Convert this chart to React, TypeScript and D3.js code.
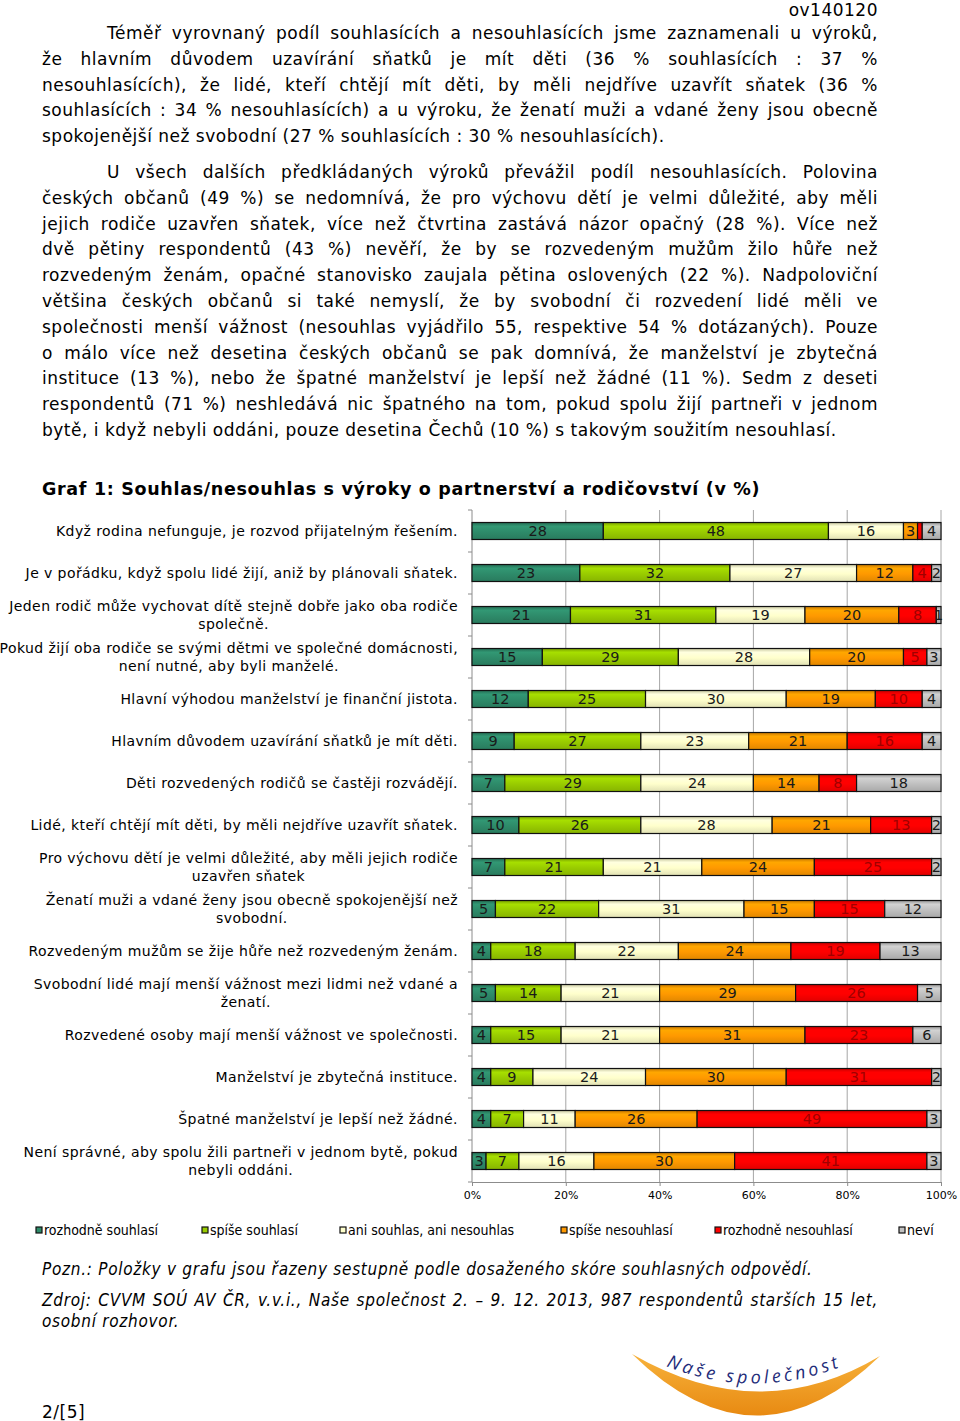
import { useEffect, useRef } from 'react';
import * as d3 from 'd3';

const CATEGORIES = [
  'rozhodně souhlasí',
  'spíše souhlasí',
  'ani souhlas, ani nesouhlas',
  'spíše nesouhlasí',
  'rozhodně nesouhlasí',
  'neví',
];
const COLORS = ['#2e8b6a', '#99cc00', '#ffffcc', '#ff9900', '#ff0000', '#c0c0c0'];
const LABEL_COLORS = ['#1a1a1a', '#1a1a1a', '#1a1a1a', '#1a1a1a', '#a00000', '#1a1a1a'];

const STATEMENTS: string[][] = [
  ['Když rodina nefunguje, je rozvod přijatelným řešením.'],
  ['Je v pořádku, když spolu lidé žijí, aniž by plánovali sňatek.'],
  ['Jeden rodič může vychovat dítě stejně dobře jako oba rodiče', 'společně.'],
  ['Pokud žijí oba rodiče se svými dětmi ve společné domácnosti,', 'není nutné, aby byli manželé.'],
  ['Hlavní výhodou manželství je finanční jistota.'],
  ['Hlavním důvodem uzavírání sňatků je mít děti.'],
  ['Děti rozvedených rodičů se častěji rozvádějí.'],
  ['Lidé, kteří chtějí mít děti, by měli nejdříve uzavřít sňatek.'],
  ['Pro výchovu dětí je velmi důležité, aby měli jejich rodiče', 'uzavřen sňatek'],
  ['Ženatí muži a vdané ženy jsou obecně spokojenější než', 'svobodní.'],
  ['Rozvedeným mužům se žije hůře než rozvedeným ženám.'],
  ['Svobodní lidé mají menší vážnost mezi lidmi než vdané a', 'ženatí.'],
  ['Rozvedené osoby mají menší vážnost ve společnosti.'],
  ['Manželství je zbytečná instituce.'],
  ['Špatné manželství je lepší než žádné.'],
  ['Není správné, aby spolu žili partneři v jednom bytě, pokud', 'nebyli oddáni.'],
];

const VALUES: number[][] = [
  [28, 48, 16, 3, 1, 4],
  [23, 32, 27, 12, 4, 2],
  [21, 31, 19, 20, 8, 1],
  [15, 29, 28, 20, 5, 3],
  [12, 25, 30, 19, 10, 4],
  [9, 27, 23, 21, 16, 4],
  [7, 29, 24, 14, 8, 18],
  [10, 26, 28, 21, 13, 2],
  [7, 21, 21, 24, 25, 2],
  [5, 22, 31, 15, 15, 12],
  [4, 18, 22, 24, 19, 13],
  [5, 14, 21, 29, 26, 5],
  [4, 15, 21, 31, 23, 6],
  [4, 9, 24, 30, 31, 2],
  [4, 7, 11, 26, 49, 3],
  [3, 7, 16, 30, 41, 3],
];

const TICKS = [0, 20, 40, 60, 80, 100];

const PARA1 = [
  'Téměř vyrovnaný podíl souhlasících a nesouhlasících jsme zaznamenali u výroků,',
  'že hlavním důvodem uzavírání sňatků je mít děti (36 % souhlasících : 37 %',
  'nesouhlasících), že lidé, kteří chtějí mít děti, by měli nejdříve uzavřít sňatek (36 %',
  'souhlasících : 34 % nesouhlasících) a u výroku, že ženatí muži a vdané ženy jsou obecně',
  'spokojenější než svobodní (27 % souhlasících : 30 % nesouhlasících).',
];
const PARA2 = [
  'U všech dalších předkládaných výroků převážil podíl nesouhlasících. Polovina',
  'českých občanů (49 %) se nedomnívá, že pro výchovu dětí je velmi důležité, aby měli',
  'jejich rodiče uzavřen sňatek, více než čtvrtina zastává názor opačný (28 %). Více než',
  'dvě pětiny respondentů (43 %) nevěří, že by se rozvedeným mužům žilo hůře než',
  'rozvedeným ženám, opačné stanovisko zaujala pětina oslovených (22 %). Nadpoloviční',
  'většina českých občanů si také nemyslí, že by svobodní či rozvedení lidé měli ve',
  'společnosti menší vážnost (nesouhlas vyjádřilo 55, respektive 54 % dotázaných). Pouze',
  'o málo více než desetina českých občanů se pak domnívá, že manželství je zbytečná',
  'instituce (13 %), nebo že špatné manželství je lepší než žádné (11 %). Sedm z deseti',
  'respondentů (71 %) neshledává nic špatného na tom, pokud spolu žijí partneři v jednom',
  'bytě, i když nebyli oddáni, pouze desetina Čechů (10 %) s takovým soužitím nesouhlasí.',
];

const TITLE = 'Graf 1: Souhlas/nesouhlas s výroky o partnerství a rodičovství (v %)';
const NOTE = 'Pozn.: Položky v grafu jsou řazeny sestupně podle dosaženého skóre souhlasných odpovědí.';
const SOURCE = [
  'Zdroj: CVVM SOÚ AV ČR, v.v.i., Naše společnost 2. – 9. 12. 2013, 987 respondentů starších 15 let,',
  'osobní rozhovor.',
];

const BODY_FONT = "'DejaVu Sans', Verdana, sans-serif";
const NARROW_FONT = "'DejaVu Sans Condensed', 'Liberation Sans Narrow', sans-serif";

export default function App() {
  const svgRef = useRef<SVGSVGElement>(null);

  useEffect(() => {
    if (!svgRef.current) return;
    const svg = d3.select(svgRef.current);
    svg.selectAll('*').remove();

    const left = 42;
    const right = 878;

    // one line of text, justified word by word when asked
    const textLine = (
      text: string,
      x0: number,
      x1: number,
      y: number,
      justify: boolean,
      size: number,
      family: string,
      spacing: number,
      italic = false
    ) => {
      const style = (t: d3.Selection<SVGTextElement, unknown, null, undefined>) =>
        t
          .attr('font-family', family)
          .attr('font-size', size)
          .attr('letter-spacing', spacing)
          .attr('font-style', italic ? 'italic' : 'normal');
      if (!justify) {
        svg.append('text').attr('x', x0).attr('y', y).call(style).text(text);
        return;
      }
      const g = svg.append('g');
      const words = text.split(' ');
      const nodes = words.map((w) => g.append('text').attr('y', y).call(style).text(w));
      const widths = nodes.map((n) => (n.node() as SVGTextElement).getComputedTextLength());
      const gap = words.length > 1 ? (x1 - x0 - d3.sum(widths)) / (words.length - 1) : 0;
      let x = x0;
      nodes.forEach((n, i) => {
        n.attr('x', x);
        x += widths[i] + gap;
      });
    };

    // header code
    svg
      .append('text')
      .attr('x', right)
      .attr('y', 16)
      .attr('text-anchor', 'end')
      .attr('font-family', BODY_FONT)
      .attr('font-size', 17)
      .attr('letter-spacing', 0.5)
      .text('ov140120');

    PARA1.forEach((line, i) => {
      textLine(line, i === 0 ? 107 : left, right, 39 + i * 25.8, i < PARA1.length - 1, 17, BODY_FONT, 0.5);
    });
    PARA2.forEach((line, i) => {
      textLine(line, i === 0 ? 107 : left, right, 178 + i * 25.8, i < PARA2.length - 1, 17, BODY_FONT, 0.5);
    });

    // chart title
    svg
      .append('text')
      .attr('x', left)
      .attr('y', 495)
      .attr('font-family', BODY_FONT)
      .attr('font-size', 17.5)
      .attr('font-weight', 'bold')
      .attr('letter-spacing', 0.68)
      .text(TITLE);

    // chart
    const plotLeft = 472;
    const plotRight = 941;
    const plotTop = 510;
    const plotBottom = 1182;
    const barH = 17;

    const x = d3.scaleLinear().domain([0, 100]).range([plotLeft, plotRight]);
    const y = d3
      .scaleBand<number>()
      .domain(d3.range(VALUES.length))
      .range([plotTop, plotBottom]);

    const defs = svg.append('defs');
    COLORS.forEach((c, i) => {
      const base = d3.color(c)!;
      const grad = defs
        .append('linearGradient')
        .attr('id', `grad${i}`)
        .attr('x1', 0)
        .attr('y1', 0)
        .attr('x2', 0)
        .attr('y2', 1);
      grad.append('stop').attr('offset', '0%').attr('stop-color', base.darker(0.7).formatHex());
      grad.append('stop').attr('offset', '22%').attr('stop-color', base.brighter(0.25).formatHex());
      grad.append('stop').attr('offset', '55%').attr('stop-color', c);
      grad.append('stop').attr('offset', '100%').attr('stop-color', base.darker(0.35).formatHex());
    });

    // gridlines
    svg
      .append('g')
      .selectAll('line')
      .data(TICKS.slice(1))
      .join('line')
      .attr('x1', (d) => x(d))
      .attr('x2', (d) => x(d))
      .attr('y1', plotTop)
      .attr('y2', plotBottom)
      .attr('stroke', '#a6a6a6')
      .attr('stroke-width', 1);

    // left axis with category separators
    const axisG = svg.append('g').attr('stroke', '#8c8c8c');
    axisG
      .append('line')
      .attr('x1', plotLeft)
      .attr('x2', plotLeft)
      .attr('y1', plotTop)
      .attr('y2', plotBottom);
    axisG
      .selectAll('line.sep')
      .data(d3.range(VALUES.length + 1))
      .join('line')
      .attr('class', 'sep')
      .attr('x1', plotLeft - 4)
      .attr('x2', plotLeft)
      .attr('y1', (d) => plotTop + d * y.step())
      .attr('y2', (d) => plotTop + d * y.step());

    // bottom axis
    const xAxis = svg
      .append('g')
      .attr('transform', `translate(0,${plotBottom})`)
      .call(
        d3
          .axisBottom(x)
          .tickValues(TICKS)
          .tickSize(4)
          .tickFormat((d) => `${d}%`)
      );
    xAxis.selectAll('.domain, .tick line').attr('stroke', '#8c8c8c');
    xAxis
      .selectAll('text')
      .attr('font-family', BODY_FONT)
      .attr('font-size', 11)
      .attr('fill', '#000')
      .attr('dy', '0.9em');

    // bars
    VALUES.forEach((row, r) => {
      const cy = y(r)! + y.bandwidth() / 2;
      let acc = 0;
      const g = svg.append('g');
      row.forEach((v, k) => {
        const x0 = x(acc);
        const x1 = x(acc + v);
        acc += v;
        g.append('rect')
          .attr('x', x0)
          .attr('y', cy - barH / 2)
          .attr('width', x1 - x0)
          .attr('height', barH)
          .attr('fill', `url(#grad${k})`)
          .attr('stroke', '#111')
          .attr('stroke-width', 1.2);
        if (v >= 1 && !(r === 0 && k === 4)) {
          g.append('text')
            .attr('x', (x0 + x1) / 2)
            .attr('y', cy)
            .attr('dy', '0.36em')
            .attr('text-anchor', 'middle')
            .attr('font-family', BODY_FONT)
            .attr('font-size', 14.5)
            .attr('fill', LABEL_COLORS[k])
            .text(v);
        }
      });
    });

    // category labels
    const labelRight = 458;
    STATEMENTS.forEach((lines, r) => {
      const cy = y(r)! + y.bandwidth() / 2;
      if (lines.length === 1) {
        svg
          .append('text')
          .attr('x', labelRight)
          .attr('y', cy)
          .attr('dy', '0.36em')
          .attr('text-anchor', 'end')
          .attr('font-family', BODY_FONT)
          .attr('font-size', 14)
          .attr('letter-spacing', 0.42)
          .text(lines[0]);
      } else {
        const nodes = lines.map((l, i) =>
          svg
            .append('text')
            .attr('y', cy + (i - 0.5) * 18 - 0.5)
            .attr('dy', '0.36em')
            .attr('text-anchor', 'middle')
            .attr('font-family', BODY_FONT)
            .attr('font-size', 14)
            .attr('letter-spacing', 0.42)
            .text(l)
        );
        const maxW = d3.max(nodes, (n) => (n.node() as SVGTextElement).getComputedTextLength()) || 0;
        nodes.forEach((n) => n.attr('x', labelRight - maxW / 2));
      }
    });

    // legend
    const legendX = [36, 202, 340, 561, 715, 899];
    const legend = svg.append('g');
    CATEGORIES.forEach((c, i) => {
      legend
        .append('rect')
        .attr('x', legendX[i])
        .attr('y', 1227)
        .attr('width', 6)
        .attr('height', 6)
        .attr('fill', COLORS[i])
        .attr('stroke', '#111')
        .attr('stroke-width', 1.2);
      legend
        .append('text')
        .attr('x', legendX[i] + 8)
        .attr('y', 1235)
        .attr('font-family', NARROW_FONT)
        .attr('font-size', 14)
        .text(c);
    });

    // notes
    textLine(NOTE, left, 813, 1275, false, 17, NARROW_FONT, 0.72, true);
    textLine(SOURCE[0], left, right, 1306, true, 17, NARROW_FONT, 0.72, true);
    textLine(SOURCE[1], left, right, 1327, false, 17, NARROW_FONT, 0.72, true);

    // page number
    svg
      .append('text')
      .attr('x', left)
      .attr('y', 1418)
      .attr('font-family', BODY_FONT)
      .attr('font-size', 17)
      .attr('letter-spacing', 0.5)
      .text('2/[5]');

    // logo
    const logo = svg.append('g');
    const lg = defs
      .append('linearGradient')
      .attr('id', 'logoGrad')
      .attr('x1', 0)
      .attr('y1', 0)
      .attr('x2', 0)
      .attr('y2', 1);
    lg.append('stop').attr('offset', '0%').attr('stop-color', '#f7b23b');
    lg.append('stop').attr('offset', '100%').attr('stop-color', '#e88a12');
    logo
      .append('path')
      .attr('d', 'M632,1354 Q756,1476 880,1356 Q760,1428 632,1354 Z')
      .attr('fill', 'url(#logoGrad)');
    defs
      .append('path')
      .attr('id', 'logoArc')
      .attr('d', 'M666,1366 Q756,1402 848,1364');
    logo
      .append('text')
      .attr('font-family', "'Open Sans', sans-serif")
      .attr('font-size', 18)
      .attr('font-style', 'italic')
      .attr('fill', '#1f2d7a')
      .attr('letter-spacing', 3.5)
      .append('textPath')
      .attr('href', '#logoArc')
      .text('Naše společnost');
  }, []);

  return (
    <svg
      ref={svgRef}
      width={960}
      height={1421}
      style={{ position: 'absolute', left: 0, top: 0, background: '#fff' }}
    />
  );
}
